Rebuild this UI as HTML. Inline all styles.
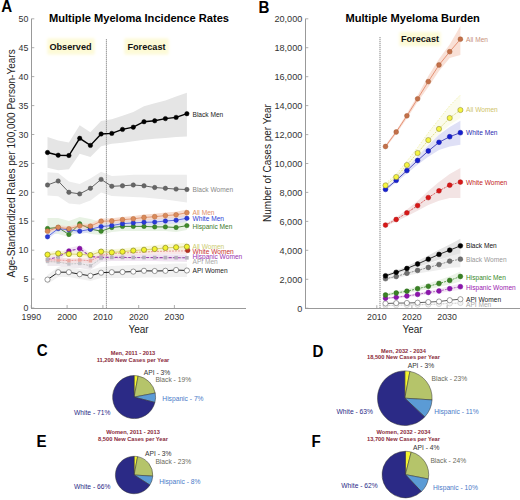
<!DOCTYPE html>
<html><head><meta charset="utf-8"><style>
html,body{margin:0;padding:0;background:#fff;width:520px;height:500px;overflow:hidden}
svg{display:block}
</style></head><body>
<svg width="520" height="500" viewBox="0 0 520 500" font-family="Liberation Sans, sans-serif">
<rect width="520" height="500" fill="#fff"/>
<defs><filter id="soft" x="-20%" y="-40%" width="140%" height="180%"><feGaussianBlur stdDeviation="1.6"/></filter></defs>
<polygon points="47.5,136.9 58.2,140.5 68.9,142.5 79.7,125.2 90.4,132.3 101.1,120.9 111.8,119.2 122.5,115.8 133.3,111.9 144.0,106.2 154.7,103.3 165.4,100.4 176.1,96.5 186.9,92.7 186.9,136.5 176.1,136.9 165.4,137.9 154.7,138.8 144.0,139.8 133.3,141.3 122.5,142.7 111.8,143.7 101.1,146.2 90.4,156.9 79.7,153.8 68.9,169.2 58.2,170.2 47.5,167.7" fill="#e5e5e5" fill-opacity="1"/>
<polygon points="47.5,172.3 58.2,172.9 68.9,181.5 79.7,184.0 90.4,178.5 101.1,171.7 111.8,176.0 122.5,175.4 133.3,174.8 144.0,174.8 154.7,174.8 165.4,174.8 176.1,174.8 186.9,174.8 186.9,202.5 176.1,201.0 165.4,199.5 154.7,198.5 144.0,197.5 133.3,197.0 122.5,196.5 111.8,196.0 101.1,192.5 90.4,200.5 79.7,204.5 68.9,203.5 58.2,196.3 47.5,195.4" fill="#ececec" fill-opacity="1"/>
<polygon points="47.5,218.0 58.2,218.0 68.9,221.0 79.7,217.0 90.4,219.0 101.1,222.0 111.8,223.0 122.5,222.5 133.3,222.5 144.0,222.5 154.7,223.0 165.4,223.0 176.1,223.0 186.9,221.5 186.9,230.0 176.1,232.0 165.4,231.0 154.7,231.0 144.0,231.0 133.3,231.0 122.5,231.0 111.8,232.0 101.1,235.0 90.4,234.0 79.7,231.0 68.9,237.0 58.2,234.0 47.5,234.0" fill="#e8f2e4" fill-opacity="1"/>
<polygon points="47.5,234.3 58.2,226.0 68.9,227.1 79.7,228.5 90.4,226.5 101.1,223.7 111.8,222.5 122.5,220.7 133.3,219.8 144.0,219.1 154.7,218.8 165.4,217.7 176.1,216.8 186.9,214.8 186.9,221.8 176.1,223.6 165.4,224.3 154.7,225.4 144.0,225.5 133.3,226.0 122.5,226.7 111.8,228.5 101.1,229.5 90.4,232.1 79.7,233.9 68.9,232.5 58.2,231.2 47.5,239.3" fill="#d6d9f5" fill-opacity="0.8"/>
<polygon points="47.5,229.0 58.2,225.0 68.9,226.4 79.7,223.4 90.4,223.7 101.1,218.6 111.8,218.3 122.5,217.0 133.3,216.0 144.0,214.6 154.7,213.7 165.4,212.6 176.1,211.7 186.9,209.5 186.9,215.9 176.1,217.9 165.4,218.6 154.7,219.7 144.0,220.4 133.3,221.6 122.5,222.4 111.8,223.7 101.1,223.8 90.4,228.7 79.7,228.2 68.9,231.2 58.2,229.6 47.5,233.4" fill="#f5d5c4" fill-opacity="0.8"/>
<polygon points="47.5,257.0 58.2,257.0 68.9,259.0 79.7,259.0 90.4,260.0 101.1,255.0 111.8,254.5 122.5,254.5 133.3,254.5 144.0,254.5 154.7,254.5 165.4,254.5 176.1,254.5 186.9,254.5 186.9,262.0 176.1,261.5 165.4,261.5 154.7,261.0 144.0,261.0 133.3,261.0 122.5,261.0 111.8,261.0 101.1,262.0 90.4,270.0 79.7,268.0 68.9,269.0 58.2,266.0 47.5,266.0" fill="#eeeaee" fill-opacity="1"/>
<polygon points="47.5,275.0 58.2,267.0 68.9,267.0 79.7,269.0 90.4,270.0 101.1,267.0 111.8,266.0 122.5,265.5 133.3,265.0 144.0,264.5 154.7,264.5 165.4,264.0 176.1,263.5 186.9,263.5 186.9,277.0 176.1,277.0 165.4,277.5 154.7,277.5 144.0,277.5 133.3,278.0 122.5,278.0 111.8,278.0 101.1,278.0 90.4,281.0 79.7,279.0 68.9,277.0 58.2,277.0 47.5,284.0" fill="#f1f1f1" fill-opacity="1"/>
<polygon points="47.5,256.5 58.2,254.0 68.9,248.0 79.7,245.5 90.4,253.5 101.1,254.4 111.8,254.4 122.5,254.4 133.3,254.5 144.0,254.5 154.7,254.6 165.4,254.6 176.1,254.7 186.9,254.8 186.9,261.3 176.1,261.2 165.4,261.0 154.7,261.0 144.0,260.8 133.3,260.8 122.5,260.7 111.8,260.6 101.1,260.6 90.4,259.7 79.7,251.6 68.9,254.1 58.2,260.0 47.5,262.5" fill="#f0e0f2" fill-opacity="0.8"/>
<polygon points="47.5,257.3 58.2,257.5 68.9,258.0 79.7,257.4 90.4,258.1 101.1,252.8 111.8,250.8 122.5,250.2 133.3,249.7 144.0,249.2 154.7,248.6 165.4,248.3 176.1,248.0 186.9,247.9 186.9,253.9 176.1,254.0 165.4,254.1 154.7,254.4 144.0,254.8 133.3,255.3 122.5,255.8 111.8,256.2 101.1,258.2 90.4,263.5 79.7,262.6 68.9,263.2 58.2,262.5 47.5,262.3" fill="#f6d8d8" fill-opacity="0.6"/>
<polygon points="47.5,252.1 58.2,250.8 68.9,251.3 79.7,251.5 90.4,252.1 101.1,248.5 111.8,249.2 122.5,248.4 133.3,247.2 144.0,246.3 154.7,245.3 165.4,244.1 176.1,243.4 186.9,242.7 186.9,250.2 176.1,250.7 165.4,251.2 154.7,252.3 144.0,253.0 133.3,253.7 122.5,254.7 111.8,255.4 101.1,254.5 90.4,257.9 79.7,257.0 68.9,256.7 58.2,256.0 47.5,257.1" fill="#f5f5cc" fill-opacity="0.7"/>
<line x1="106.4" y1="39" x2="106.4" y2="308" stroke="#9a9a9a" stroke-width="1" stroke-dasharray="1.5,0.5"/>
<polyline points="47.5,261.5 58.2,262.0 68.9,264.0 79.7,263.5 90.4,265.8 101.1,258.5 111.8,257.8 122.5,257.8 133.3,257.8 144.0,257.8 154.7,257.8 165.4,257.8 176.1,257.8 186.9,257.8" fill="none" stroke="#c0c0c0" stroke-width="0.9" stroke-opacity="1" stroke-dasharray="2,1"/>
<rect x="45.8" y="259.8" width="3.4" height="3.4" fill="#c4c2c8"/><rect x="56.5" y="260.3" width="3.4" height="3.4" fill="#c4c2c8"/><rect x="67.2" y="262.3" width="3.4" height="3.4" fill="#c4c2c8"/><rect x="78.0" y="261.8" width="3.4" height="3.4" fill="#c4c2c8"/><rect x="88.7" y="264.1" width="3.4" height="3.4" fill="#c4c2c8"/><rect x="99.4" y="256.8" width="3.4" height="3.4" fill="#c4c2c8"/>
<polyline points="47.5,259.8 58.2,260.0 68.9,260.6 79.7,260.0 90.4,260.8 101.1,255.5 111.8,253.5 122.5,253.0 133.3,252.5 144.0,252.0 154.7,251.5 165.4,251.2 176.1,251.0 186.9,250.9" fill="none" stroke="#e89090" stroke-width="0.9" stroke-opacity="1" stroke-dasharray="2,1"/>
<rect x="45.8" y="258.1" width="3.4" height="3.4" fill="#eaa8a0"/><rect x="56.5" y="258.3" width="3.4" height="3.4" fill="#eaa8a0"/><rect x="67.2" y="258.9" width="3.4" height="3.4" fill="#eaa8a0"/><rect x="78.0" y="258.3" width="3.4" height="3.4" fill="#eaa8a0"/><rect x="88.7" y="259.1" width="3.4" height="3.4" fill="#eaa8a0"/><rect x="99.4" y="253.8" width="3.4" height="3.4" fill="#eaa8a0"/>
<polyline points="47.5,259.5 58.2,257.0 68.9,251.0 79.7,248.5 90.4,256.5 101.1,257.4 111.8,257.4 122.5,257.4 133.3,257.5 144.0,257.5 154.7,257.6 165.4,257.6 176.1,257.7 186.9,257.8" fill="none" stroke="#9a48b0" stroke-width="1.1" stroke-opacity="1" stroke-dasharray="3,1.5"/>
<rect x="45.7" y="257.7" width="3.6" height="3.6" fill="#b4b0bc"/><rect x="56.4" y="255.2" width="3.6" height="3.6" fill="#b4b0bc"/><rect x="88.6" y="254.7" width="3.6" height="3.6" fill="#b4b0bc"/><rect x="99.3" y="255.6" width="3.6" height="3.6" fill="#b4b0bc"/><rect x="110.0" y="255.6" width="3.6" height="3.6" fill="#b4b0bc"/><rect x="120.7" y="255.6" width="3.6" height="3.6" fill="#b4b0bc"/><rect x="131.5" y="255.7" width="3.6" height="3.6" fill="#b4b0bc"/><rect x="142.2" y="255.7" width="3.6" height="3.6" fill="#b4b0bc"/><rect x="152.9" y="255.8" width="3.6" height="3.6" fill="#b4b0bc"/><rect x="163.6" y="255.8" width="3.6" height="3.6" fill="#b4b0bc"/><rect x="174.3" y="255.9" width="3.6" height="3.6" fill="#b4b0bc"/><rect x="185.1" y="256.0" width="3.6" height="3.6" fill="#b4b0bc"/>
<circle cx="68.9" cy="251.0" r="2.3" fill="#8a10a8" stroke="#6a0090" stroke-width="0.5"/><circle cx="79.7" cy="248.5" r="2.3" fill="#8a10a8" stroke="#6a0090" stroke-width="0.5"/>
<circle cx="187.7" cy="250.4" r="2.3" fill="#b83020" stroke="#902010" stroke-width="0.5"/>
<polyline points="47.5,254.6 58.2,253.4 68.9,254.0 79.7,254.3 90.4,255.1 101.1,251.6 111.8,252.4 122.5,251.7 133.3,250.6 144.0,249.8 154.7,249.0 165.4,247.9 176.1,247.3 186.9,246.7" fill="none" stroke="#d8d060" stroke-width="0.9" stroke-opacity="1"/>
<circle cx="47.5" cy="254.6" r="2.6" fill="#f2f230" stroke="#85852a" stroke-width="0.7"/><circle cx="58.2" cy="253.4" r="2.6" fill="#f2f230" stroke="#85852a" stroke-width="0.7"/><circle cx="68.9" cy="254.0" r="2.6" fill="#f2f230" stroke="#85852a" stroke-width="0.7"/><circle cx="79.7" cy="254.3" r="2.6" fill="#f2f230" stroke="#85852a" stroke-width="0.7"/><circle cx="90.4" cy="255.1" r="2.6" fill="#f2f230" stroke="#85852a" stroke-width="0.7"/><circle cx="101.1" cy="251.6" r="2.6" fill="#f2f230" stroke="#85852a" stroke-width="0.7"/><circle cx="111.8" cy="252.4" r="2.6" fill="#f2f230" stroke="#85852a" stroke-width="0.7"/><circle cx="122.5" cy="251.7" r="2.6" fill="#f2f230" stroke="#85852a" stroke-width="0.7"/><circle cx="133.3" cy="250.6" r="2.6" fill="#f2f230" stroke="#85852a" stroke-width="0.7"/><circle cx="144.0" cy="249.8" r="2.6" fill="#f2f230" stroke="#85852a" stroke-width="0.7"/><circle cx="154.7" cy="249.0" r="2.6" fill="#f2f230" stroke="#85852a" stroke-width="0.7"/><circle cx="165.4" cy="247.9" r="2.6" fill="#f2f230" stroke="#85852a" stroke-width="0.7"/><circle cx="176.1" cy="247.3" r="2.6" fill="#f2f230" stroke="#85852a" stroke-width="0.7"/><circle cx="186.9" cy="246.7" r="2.6" fill="#f2f230" stroke="#85852a" stroke-width="0.7"/>
<polyline points="47.5,279.6 58.2,272.2 68.9,272.2 79.7,274.2 90.4,275.8 101.1,272.7 111.8,272.2 122.5,272.0 133.3,271.6 144.0,270.8 154.7,271.0 165.4,270.8 176.1,270.0 186.9,270.5" fill="none" stroke="#222" stroke-width="1.0" stroke-opacity="1"/>
<circle cx="47.5" cy="279.6" r="2.6" fill="#fff" stroke="#555" stroke-width="0.6"/><circle cx="58.2" cy="272.2" r="2.6" fill="#fff" stroke="#555" stroke-width="0.6"/><circle cx="68.9" cy="272.2" r="2.6" fill="#fff" stroke="#555" stroke-width="0.6"/><circle cx="79.7" cy="274.2" r="2.6" fill="#fff" stroke="#555" stroke-width="0.6"/><circle cx="90.4" cy="275.8" r="2.6" fill="#fff" stroke="#555" stroke-width="0.6"/><circle cx="101.1" cy="272.7" r="2.6" fill="#fff" stroke="#555" stroke-width="0.6"/><circle cx="111.8" cy="272.2" r="2.6" fill="#fff" stroke="#555" stroke-width="0.6"/><circle cx="122.5" cy="272.0" r="2.6" fill="#fff" stroke="#555" stroke-width="0.6"/><circle cx="133.3" cy="271.6" r="2.6" fill="#fff" stroke="#555" stroke-width="0.6"/><circle cx="144.0" cy="270.8" r="2.6" fill="#fff" stroke="#555" stroke-width="0.6"/><circle cx="154.7" cy="271.0" r="2.6" fill="#fff" stroke="#555" stroke-width="0.6"/><circle cx="165.4" cy="270.8" r="2.6" fill="#fff" stroke="#555" stroke-width="0.6"/><circle cx="176.1" cy="270.0" r="2.6" fill="#fff" stroke="#555" stroke-width="0.6"/><circle cx="186.9" cy="270.5" r="2.6" fill="#fff" stroke="#555" stroke-width="0.6"/>
<polyline points="47.5,228.5 58.2,227.5 68.9,234.5 79.7,223.8 90.4,229.0 101.1,231.2 111.8,227.5 122.5,226.4 133.3,226.4 144.0,226.4 154.7,226.9 165.4,226.9 176.1,227.5 186.9,225.6" fill="none" stroke="#3a7a2a" stroke-width="0.9" stroke-opacity="1"/>
<circle cx="47.5" cy="228.5" r="2.2" fill="#3d8a2a" stroke="#2a6a1a" stroke-width="0.5"/><circle cx="58.2" cy="227.5" r="2.2" fill="#3d8a2a" stroke="#2a6a1a" stroke-width="0.5"/><circle cx="68.9" cy="234.5" r="2.2" fill="#3d8a2a" stroke="#2a6a1a" stroke-width="0.5"/><circle cx="79.7" cy="223.8" r="2.2" fill="#3d8a2a" stroke="#2a6a1a" stroke-width="0.5"/><circle cx="90.4" cy="229.0" r="2.2" fill="#3d8a2a" stroke="#2a6a1a" stroke-width="0.5"/><circle cx="101.1" cy="231.2" r="2.2" fill="#3d8a2a" stroke="#2a6a1a" stroke-width="0.5"/><circle cx="111.8" cy="227.5" r="2.2" fill="#3d8a2a" stroke="#2a6a1a" stroke-width="0.5"/><circle cx="122.5" cy="226.4" r="2.2" fill="#3d8a2a" stroke="#2a6a1a" stroke-width="0.5"/><circle cx="133.3" cy="226.4" r="2.2" fill="#3d8a2a" stroke="#2a6a1a" stroke-width="0.5"/><circle cx="144.0" cy="226.4" r="2.2" fill="#3d8a2a" stroke="#2a6a1a" stroke-width="0.5"/><circle cx="154.7" cy="226.9" r="2.2" fill="#3d8a2a" stroke="#2a6a1a" stroke-width="0.5"/><circle cx="165.4" cy="226.9" r="2.2" fill="#3d8a2a" stroke="#2a6a1a" stroke-width="0.5"/><circle cx="176.1" cy="227.5" r="2.2" fill="#3d8a2a" stroke="#2a6a1a" stroke-width="0.5"/><circle cx="186.9" cy="225.6" r="2.2" fill="#3d8a2a" stroke="#2a6a1a" stroke-width="0.5"/>
<polyline points="47.5,236.8 58.2,228.6 68.9,229.8 79.7,231.2 90.4,229.3 101.1,226.6 111.8,225.5 122.5,223.7 133.3,222.9 144.0,222.3 154.7,222.1 165.4,221.0 176.1,220.2 186.9,218.3" fill="none" stroke="#5060e0" stroke-width="0.9" stroke-opacity="1"/>
<circle cx="47.5" cy="236.8" r="2.2" fill="#2a3ad8" stroke="#1a2ab0" stroke-width="0.5"/><circle cx="58.2" cy="228.6" r="2.2" fill="#2a3ad8" stroke="#1a2ab0" stroke-width="0.5"/><circle cx="68.9" cy="229.8" r="2.2" fill="#2a3ad8" stroke="#1a2ab0" stroke-width="0.5"/><circle cx="79.7" cy="231.2" r="2.2" fill="#2a3ad8" stroke="#1a2ab0" stroke-width="0.5"/><circle cx="90.4" cy="229.3" r="2.2" fill="#2a3ad8" stroke="#1a2ab0" stroke-width="0.5"/><circle cx="101.1" cy="226.6" r="2.2" fill="#2a3ad8" stroke="#1a2ab0" stroke-width="0.5"/><circle cx="111.8" cy="225.5" r="2.2" fill="#2a3ad8" stroke="#1a2ab0" stroke-width="0.5"/><circle cx="122.5" cy="223.7" r="2.2" fill="#2a3ad8" stroke="#1a2ab0" stroke-width="0.5"/><circle cx="133.3" cy="222.9" r="2.2" fill="#2a3ad8" stroke="#1a2ab0" stroke-width="0.5"/><circle cx="144.0" cy="222.3" r="2.2" fill="#2a3ad8" stroke="#1a2ab0" stroke-width="0.5"/><circle cx="154.7" cy="222.1" r="2.2" fill="#2a3ad8" stroke="#1a2ab0" stroke-width="0.5"/><circle cx="165.4" cy="221.0" r="2.2" fill="#2a3ad8" stroke="#1a2ab0" stroke-width="0.5"/><circle cx="176.1" cy="220.2" r="2.2" fill="#2a3ad8" stroke="#1a2ab0" stroke-width="0.5"/><circle cx="186.9" cy="218.3" r="2.2" fill="#2a3ad8" stroke="#1a2ab0" stroke-width="0.5"/>
<polyline points="47.5,231.2 58.2,227.3 68.9,228.8 79.7,225.8 90.4,226.2 101.1,221.2 111.8,221.0 122.5,219.7 133.3,218.8 144.0,217.5 154.7,216.7 165.4,215.6 176.1,214.8 186.9,212.7" fill="none" stroke="#e0906a" stroke-width="0.9" stroke-opacity="1"/>
<circle cx="47.5" cy="231.2" r="2.4" fill="#d98a5a" stroke="#b86a3a" stroke-width="0.5"/><circle cx="58.2" cy="227.3" r="2.4" fill="#d98a5a" stroke="#b86a3a" stroke-width="0.5"/><circle cx="68.9" cy="228.8" r="2.4" fill="#d98a5a" stroke="#b86a3a" stroke-width="0.5"/><circle cx="79.7" cy="225.8" r="2.4" fill="#d98a5a" stroke="#b86a3a" stroke-width="0.5"/><circle cx="90.4" cy="226.2" r="2.4" fill="#d98a5a" stroke="#b86a3a" stroke-width="0.5"/><circle cx="101.1" cy="221.2" r="2.4" fill="#d98a5a" stroke="#b86a3a" stroke-width="0.5"/><circle cx="111.8" cy="221.0" r="2.4" fill="#d98a5a" stroke="#b86a3a" stroke-width="0.5"/><circle cx="122.5" cy="219.7" r="2.4" fill="#d98a5a" stroke="#b86a3a" stroke-width="0.5"/><circle cx="133.3" cy="218.8" r="2.4" fill="#d98a5a" stroke="#b86a3a" stroke-width="0.5"/><circle cx="144.0" cy="217.5" r="2.4" fill="#d98a5a" stroke="#b86a3a" stroke-width="0.5"/><circle cx="154.7" cy="216.7" r="2.4" fill="#d98a5a" stroke="#b86a3a" stroke-width="0.5"/><circle cx="165.4" cy="215.6" r="2.4" fill="#d98a5a" stroke="#b86a3a" stroke-width="0.5"/><circle cx="176.1" cy="214.8" r="2.4" fill="#d98a5a" stroke="#b86a3a" stroke-width="0.5"/><circle cx="186.9" cy="212.7" r="2.4" fill="#d98a5a" stroke="#b86a3a" stroke-width="0.5"/>
<polyline points="47.5,185.0 58.2,181.0 68.9,192.3 79.7,193.9 90.4,188.3 101.1,179.4 111.8,186.3 122.5,185.8 133.3,185.0 144.0,185.8 154.7,187.5 165.4,188.3 176.1,189.1 186.9,189.5" fill="none" stroke="#666" stroke-width="1.0" stroke-opacity="1"/>
<circle cx="47.5" cy="185.0" r="2.2" fill="#666" stroke="#555" stroke-width="0.5"/><circle cx="58.2" cy="181.0" r="2.2" fill="#666" stroke="#555" stroke-width="0.5"/><circle cx="68.9" cy="192.3" r="2.2" fill="#666" stroke="#555" stroke-width="0.5"/><circle cx="79.7" cy="193.9" r="2.2" fill="#666" stroke="#555" stroke-width="0.5"/><circle cx="90.4" cy="188.3" r="2.2" fill="#666" stroke="#555" stroke-width="0.5"/><circle cx="101.1" cy="179.4" r="2.2" fill="#666" stroke="#555" stroke-width="0.5"/><circle cx="111.8" cy="186.3" r="2.2" fill="#666" stroke="#555" stroke-width="0.5"/><circle cx="122.5" cy="185.8" r="2.2" fill="#666" stroke="#555" stroke-width="0.5"/><circle cx="133.3" cy="185.0" r="2.2" fill="#666" stroke="#555" stroke-width="0.5"/><circle cx="144.0" cy="185.8" r="2.2" fill="#666" stroke="#555" stroke-width="0.5"/><circle cx="154.7" cy="187.5" r="2.2" fill="#666" stroke="#555" stroke-width="0.5"/><circle cx="165.4" cy="188.3" r="2.2" fill="#666" stroke="#555" stroke-width="0.5"/><circle cx="176.1" cy="189.1" r="2.2" fill="#666" stroke="#555" stroke-width="0.5"/><circle cx="186.9" cy="189.5" r="2.2" fill="#666" stroke="#555" stroke-width="0.5"/>
<polyline points="47.5,152.5 58.2,155.2 68.9,155.5 79.7,138.3 90.4,145.4 101.1,134.0 111.8,133.4 122.5,129.4 133.3,127.2 144.0,121.7 154.7,120.8 165.4,118.6 176.1,117.4 186.9,113.7" fill="none" stroke="#000" stroke-width="1.4" stroke-opacity="1"/>
<circle cx="47.5" cy="152.5" r="2.2" fill="#000" stroke="#000" stroke-width="0.5"/><circle cx="58.2" cy="155.2" r="2.2" fill="#000" stroke="#000" stroke-width="0.5"/><circle cx="68.9" cy="155.5" r="2.2" fill="#000" stroke="#000" stroke-width="0.5"/><circle cx="79.7" cy="138.3" r="2.2" fill="#000" stroke="#000" stroke-width="0.5"/><circle cx="90.4" cy="145.4" r="2.2" fill="#000" stroke="#000" stroke-width="0.5"/><circle cx="101.1" cy="134.0" r="2.2" fill="#000" stroke="#000" stroke-width="0.5"/><circle cx="111.8" cy="133.4" r="2.2" fill="#000" stroke="#000" stroke-width="0.5"/><circle cx="122.5" cy="129.4" r="2.2" fill="#000" stroke="#000" stroke-width="0.5"/><circle cx="133.3" cy="127.2" r="2.2" fill="#000" stroke="#000" stroke-width="0.5"/><circle cx="144.0" cy="121.7" r="2.2" fill="#000" stroke="#000" stroke-width="0.5"/><circle cx="154.7" cy="120.8" r="2.2" fill="#000" stroke="#000" stroke-width="0.5"/><circle cx="165.4" cy="118.6" r="2.2" fill="#000" stroke="#000" stroke-width="0.5"/><circle cx="176.1" cy="117.4" r="2.2" fill="#000" stroke="#000" stroke-width="0.5"/><circle cx="186.9" cy="113.7" r="2.2" fill="#000" stroke="#000" stroke-width="0.5"/>
<line x1="31" y1="308.5" x2="246" y2="308.5" stroke="#999" stroke-width="1"/>
<line x1="31.5" y1="308.5" x2="31.5" y2="18.8" stroke="#999" stroke-width="1"/>
<line x1="31.3" y1="308.0" x2="34.3" y2="308.0" stroke="#999" stroke-width="0.8"/>
<text x="28.3" y="311.2" font-size="8.8" fill="#333" text-anchor="end">0</text>
<line x1="31.3" y1="279.1" x2="34.3" y2="279.1" stroke="#999" stroke-width="0.8"/>
<text x="28.3" y="282.3" font-size="8.8" fill="#333" text-anchor="end">5</text>
<line x1="31.3" y1="250.2" x2="34.3" y2="250.2" stroke="#999" stroke-width="0.8"/>
<text x="28.3" y="253.4" font-size="8.8" fill="#333" text-anchor="end">10</text>
<line x1="31.3" y1="221.2" x2="34.3" y2="221.2" stroke="#999" stroke-width="0.8"/>
<text x="28.3" y="224.4" font-size="8.8" fill="#333" text-anchor="end">15</text>
<line x1="31.3" y1="192.3" x2="34.3" y2="192.3" stroke="#999" stroke-width="0.8"/>
<text x="28.3" y="195.5" font-size="8.8" fill="#333" text-anchor="end">20</text>
<line x1="31.3" y1="163.4" x2="34.3" y2="163.4" stroke="#999" stroke-width="0.8"/>
<text x="28.3" y="166.6" font-size="8.8" fill="#333" text-anchor="end">25</text>
<line x1="31.3" y1="134.5" x2="34.3" y2="134.5" stroke="#999" stroke-width="0.8"/>
<text x="28.3" y="137.7" font-size="8.8" fill="#333" text-anchor="end">30</text>
<line x1="31.3" y1="105.6" x2="34.3" y2="105.6" stroke="#999" stroke-width="0.8"/>
<text x="28.3" y="108.8" font-size="8.8" fill="#333" text-anchor="end">35</text>
<line x1="31.3" y1="76.6" x2="34.3" y2="76.6" stroke="#999" stroke-width="0.8"/>
<text x="28.3" y="79.8" font-size="8.8" fill="#333" text-anchor="end">40</text>
<line x1="31.3" y1="47.7" x2="34.3" y2="47.7" stroke="#999" stroke-width="0.8"/>
<text x="28.3" y="50.9" font-size="8.8" fill="#333" text-anchor="end">45</text>
<line x1="31.3" y1="18.8" x2="34.3" y2="18.8" stroke="#999" stroke-width="0.8"/>
<text x="28.3" y="22.0" font-size="8.8" fill="#333" text-anchor="end">50</text>
<line x1="31.3" y1="308.0" x2="31.3" y2="305.0" stroke="#999" stroke-width="0.8"/>
<text x="31.3" y="320" font-size="8.8" fill="#333" text-anchor="middle">1990</text>
<line x1="67.1" y1="308.0" x2="67.1" y2="305.0" stroke="#999" stroke-width="0.8"/>
<text x="67.1" y="320" font-size="8.8" fill="#333" text-anchor="middle">2000</text>
<line x1="102.9" y1="308.0" x2="102.9" y2="305.0" stroke="#999" stroke-width="0.8"/>
<text x="102.9" y="320" font-size="8.8" fill="#333" text-anchor="middle">2010</text>
<line x1="138.7" y1="308.0" x2="138.7" y2="305.0" stroke="#999" stroke-width="0.8"/>
<text x="138.7" y="320" font-size="8.8" fill="#333" text-anchor="middle">2020</text>
<line x1="174.4" y1="308.0" x2="174.4" y2="305.0" stroke="#999" stroke-width="0.8"/>
<text x="174.4" y="320" font-size="8.8" fill="#333" text-anchor="middle">2030</text>
<text x="138.5" y="333" font-size="10" fill="#222" text-anchor="middle">Year</text>
<text transform="translate(14.8,163.4) rotate(-90)" font-size="10" fill="#222" text-anchor="middle">Age-Standardized Rates per 100,000 Person-Years</text>
<text x="139" y="21.5" font-size="11.1" font-weight="bold" fill="#000" text-anchor="middle">Multiple Myeloma Incidence Rates</text>
<text transform="translate(6.7,12.2) scale(0.9,1)" font-size="16.8" font-weight="bold" fill="#000" text-anchor="middle">A</text>
<rect x="47.5" y="38.5" width="47" height="16" fill="#fdfad6" filter="url(#soft)"/>
<text x="70.5" y="49.7" font-size="9.15" font-weight="bold" fill="#111" text-anchor="middle">Observed</text>
<rect x="124.5" y="38.5" width="44" height="16" fill="#fdfad6" filter="url(#soft)"/>
<text x="146.5" y="49.7" font-size="9.15" font-weight="bold" fill="#111" text-anchor="middle">Forecast</text>
<text x="192.5" y="116.8" font-size="6.6" fill="#222">Black Men</text>
<text x="192.5" y="191.8" font-size="6.6" fill="#888">Black Women</text>
<text x="192.5" y="215.3" font-size="6.6" fill="#e0906a">All Men</text>
<text x="192.5" y="221" font-size="6.6" fill="#2a3ad8">White Men</text>
<text x="192.5" y="228.7" font-size="6.6" fill="#3a7a2a">Hispanic Men</text>
<text x="192.5" y="248.6" font-size="6.6" fill="#cccc70">All Women</text>
<text x="192.5" y="253.6" font-size="6.6" fill="#c83030">White Women</text>
<text x="192.5" y="259.1" font-size="6.6" fill="#9a30b0">Hispanic Women</text>
<text x="192.5" y="263.6" font-size="6.6" fill="#a8a8a8">API Men</text>
<text x="192.5" y="273" font-size="6.6" fill="#222">API Women</text>
<polygon points="385.5,145.0 396.2,130.5 406.9,113.5 417.6,95.5 428.3,76.0 439.0,59.0 449.7,44.5 460.4,26.0 460.4,55.0 449.7,58.0 439.0,71.0 428.3,87.0 417.6,102.0 406.9,118.5 396.2,134.0 385.5,148.0" fill="#f9e0d6" fill-opacity="1"/>
<polygon points="385.5,183.4 396.2,174.4 406.9,161.2 417.6,147.6 428.3,132.8 439.0,119.3 449.7,105.8 460.4,95.0 460.4,118.0 449.7,124.7 439.0,134.4 428.3,144.6 417.6,156.5 406.9,167.8 396.2,179.3 385.5,187.4" fill="#fbfbec" fill-opacity="1"/>
<polyline points="385.5,183.4 396.2,174.4 406.9,161.2 417.6,147.6 428.3,132.8 439.0,119.3 449.7,105.8 460.4,95.0" fill="none" stroke="#eeee9a" stroke-width="0.8" stroke-dasharray="1.5,1.5"/>
<polygon points="385.5,187.9 396.2,178.4 406.9,167.7 417.6,156.3 428.3,145.2 439.0,134.7 449.7,127.0 460.4,120.7 460.4,144.7 449.7,146.4 439.0,149.9 428.3,156.8 417.6,164.7 406.9,173.5 396.2,182.4 385.5,190.9" fill="#dfe0f6" fill-opacity="1"/>
<polygon points="385.5,223.6 396.2,217.4 406.9,209.6 417.6,200.9 428.3,191.0 439.0,182.0 449.7,173.9 460.4,168.1 460.4,198.1 449.7,198.0 439.0,200.8 428.3,205.0 417.6,210.8 406.9,216.3 396.2,221.6 385.5,226.6" fill="#f3e4e4" fill-opacity="1"/>
<polygon points="385.5,274.3 396.2,270.6 406.9,266.3 417.6,261.1 428.3,255.5 439.0,249.7 449.7,244.4 460.4,238.8 460.4,253.8 449.7,256.8 439.0,259.7 428.3,263.4 417.6,267.2 406.9,270.9 396.2,274.1 385.5,277.3" fill="#e4e4e4" fill-opacity="1"/>
<polygon points="385.5,277.2 396.2,274.8 406.9,271.2 417.6,267.7 428.3,264.2 439.0,260.5 449.7,256.2 460.4,253.2 460.4,267.2 449.7,267.8 439.0,269.9 428.3,271.7 417.6,273.6 406.9,275.7 396.2,278.3 385.5,280.2" fill="#eeeeee" fill-opacity="1"/>
<polygon points="385.5,293.5 396.2,291.3 406.9,289.2 417.6,286.3 428.3,283.4 439.0,280.0 449.7,276.2 460.4,271.5 460.4,281.5 449.7,284.6 439.0,287.0 428.3,289.2 417.6,291.1 406.9,293.2 396.2,294.7 385.5,296.5" fill="#eaf3e6" fill-opacity="1"/>
<polygon points="385.5,297.3 396.2,296.2 406.9,294.7 417.6,292.9 428.3,290.7 439.0,288.8 449.7,286.1 460.4,283.7 460.4,289.7 449.7,291.3 439.0,293.2 428.3,294.3 417.6,295.9 406.9,297.3 396.2,298.4 385.5,299.3" fill="#f3e8f4" fill-opacity="1"/>
<line x1="380.0" y1="37" x2="380.0" y2="308.2" stroke="#9a9a9a" stroke-width="1.2" stroke-dasharray="1.2,0.8"/>
<polyline points="385.5,305.5 396.2,305.2 406.9,305.0 417.6,304.8 428.3,304.5 439.0,304.0 449.7,303.5 460.4,303.0" fill="none" stroke="#bbb" stroke-width="0.8" stroke-opacity="1" stroke-dasharray="2,1"/>
<circle cx="385.5" cy="305.5" r="2.6" fill="#f4f4f4" stroke="#bbb" stroke-width="0.5"/><circle cx="396.2" cy="305.2" r="2.6" fill="#f4f4f4" stroke="#bbb" stroke-width="0.5"/><circle cx="406.9" cy="305.0" r="2.6" fill="#f4f4f4" stroke="#bbb" stroke-width="0.5"/><circle cx="417.6" cy="304.8" r="2.6" fill="#f4f4f4" stroke="#bbb" stroke-width="0.5"/><circle cx="428.3" cy="304.5" r="2.6" fill="#f4f4f4" stroke="#bbb" stroke-width="0.5"/><circle cx="439.0" cy="304.0" r="2.6" fill="#f4f4f4" stroke="#bbb" stroke-width="0.5"/><circle cx="449.7" cy="303.5" r="2.6" fill="#f4f4f4" stroke="#bbb" stroke-width="0.5"/><circle cx="460.4" cy="303.0" r="2.6" fill="#f4f4f4" stroke="#bbb" stroke-width="0.5"/>
<polyline points="385.5,303.5 396.2,303.1 406.9,303.0 417.6,302.7 428.3,302.1 439.0,301.5 449.7,300.2 460.4,299.2" fill="none" stroke="#333" stroke-width="0.8" stroke-opacity="1"/>
<circle cx="385.5" cy="303.5" r="2.6" fill="#fff" stroke="#444" stroke-width="0.5"/><circle cx="396.2" cy="303.1" r="2.6" fill="#fff" stroke="#444" stroke-width="0.5"/><circle cx="406.9" cy="303.0" r="2.6" fill="#fff" stroke="#444" stroke-width="0.5"/><circle cx="417.6" cy="302.7" r="2.6" fill="#fff" stroke="#444" stroke-width="0.5"/><circle cx="428.3" cy="302.1" r="2.6" fill="#fff" stroke="#444" stroke-width="0.5"/><circle cx="439.0" cy="301.5" r="2.6" fill="#fff" stroke="#444" stroke-width="0.5"/><circle cx="449.7" cy="300.2" r="2.6" fill="#fff" stroke="#444" stroke-width="0.5"/><circle cx="460.4" cy="299.2" r="2.6" fill="#fff" stroke="#444" stroke-width="0.5"/>
<polyline points="385.5,298.3 396.2,297.3 406.9,296.0 417.6,294.4 428.3,292.5 439.0,291.0 449.7,288.7 460.4,286.7" fill="none" stroke="#a040b0" stroke-width="0.8" stroke-opacity="1" stroke-dasharray="2,1"/>
<circle cx="385.5" cy="298.3" r="2.4" fill="#8e14aa" stroke="#7010a0" stroke-width="0.5"/><circle cx="396.2" cy="297.3" r="2.4" fill="#8e14aa" stroke="#7010a0" stroke-width="0.5"/><circle cx="406.9" cy="296.0" r="2.4" fill="#8e14aa" stroke="#7010a0" stroke-width="0.5"/><circle cx="417.6" cy="294.4" r="2.4" fill="#8e14aa" stroke="#7010a0" stroke-width="0.5"/><circle cx="428.3" cy="292.5" r="2.4" fill="#8e14aa" stroke="#7010a0" stroke-width="0.5"/><circle cx="439.0" cy="291.0" r="2.4" fill="#8e14aa" stroke="#7010a0" stroke-width="0.5"/><circle cx="449.7" cy="288.7" r="2.4" fill="#8e14aa" stroke="#7010a0" stroke-width="0.5"/><circle cx="460.4" cy="286.7" r="2.4" fill="#8e14aa" stroke="#7010a0" stroke-width="0.5"/>
<polyline points="385.5,295.0 396.2,293.0 406.9,291.2 417.6,288.7 428.3,286.3 439.0,283.5 449.7,280.4 460.4,276.5" fill="none" stroke="#3a8a2a" stroke-width="0.8" stroke-opacity="1" stroke-dasharray="2,1"/>
<circle cx="385.5" cy="295.0" r="2.4" fill="#3a8224" stroke="#2a6a1a" stroke-width="0.5"/><circle cx="396.2" cy="293.0" r="2.4" fill="#3a8224" stroke="#2a6a1a" stroke-width="0.5"/><circle cx="406.9" cy="291.2" r="2.4" fill="#3a8224" stroke="#2a6a1a" stroke-width="0.5"/><circle cx="417.6" cy="288.7" r="2.4" fill="#3a8224" stroke="#2a6a1a" stroke-width="0.5"/><circle cx="428.3" cy="286.3" r="2.4" fill="#3a8224" stroke="#2a6a1a" stroke-width="0.5"/><circle cx="439.0" cy="283.5" r="2.4" fill="#3a8224" stroke="#2a6a1a" stroke-width="0.5"/><circle cx="449.7" cy="280.4" r="2.4" fill="#3a8224" stroke="#2a6a1a" stroke-width="0.5"/><circle cx="460.4" cy="276.5" r="2.4" fill="#3a8224" stroke="#2a6a1a" stroke-width="0.5"/>
<polyline points="385.5,278.7 396.2,276.5 406.9,273.3 417.6,270.4 428.3,267.5 439.0,264.6 449.7,261.2 460.4,259.2" fill="none" stroke="#777" stroke-width="0.8" stroke-opacity="1" stroke-dasharray="2,1"/>
<circle cx="385.5" cy="278.7" r="2.4" fill="#707070" stroke="#555" stroke-width="0.5"/><circle cx="396.2" cy="276.5" r="2.4" fill="#707070" stroke="#555" stroke-width="0.5"/><circle cx="406.9" cy="273.3" r="2.4" fill="#707070" stroke="#555" stroke-width="0.5"/><circle cx="417.6" cy="270.4" r="2.4" fill="#707070" stroke="#555" stroke-width="0.5"/><circle cx="428.3" cy="267.5" r="2.4" fill="#707070" stroke="#555" stroke-width="0.5"/><circle cx="439.0" cy="264.6" r="2.4" fill="#707070" stroke="#555" stroke-width="0.5"/><circle cx="449.7" cy="261.2" r="2.4" fill="#707070" stroke="#555" stroke-width="0.5"/><circle cx="460.4" cy="259.2" r="2.4" fill="#707070" stroke="#555" stroke-width="0.5"/>
<polyline points="385.5,275.8 396.2,272.3 406.9,268.5 417.6,264.0 428.3,259.2 439.0,254.4 449.7,250.2 460.4,245.8" fill="none" stroke="#000" stroke-width="0.8" stroke-opacity="1"/>
<circle cx="385.5" cy="275.8" r="2.4" fill="#000" stroke="#000" stroke-width="0.5"/><circle cx="396.2" cy="272.3" r="2.4" fill="#000" stroke="#000" stroke-width="0.5"/><circle cx="406.9" cy="268.5" r="2.4" fill="#000" stroke="#000" stroke-width="0.5"/><circle cx="417.6" cy="264.0" r="2.4" fill="#000" stroke="#000" stroke-width="0.5"/><circle cx="428.3" cy="259.2" r="2.4" fill="#000" stroke="#000" stroke-width="0.5"/><circle cx="439.0" cy="254.4" r="2.4" fill="#000" stroke="#000" stroke-width="0.5"/><circle cx="449.7" cy="250.2" r="2.4" fill="#000" stroke="#000" stroke-width="0.5"/><circle cx="460.4" cy="245.8" r="2.4" fill="#000" stroke="#000" stroke-width="0.5"/>
<polyline points="385.5,225.1 396.2,219.5 406.9,212.8 417.6,205.6 428.3,197.6 439.0,190.8 449.7,185.2 460.4,182.1" fill="none" stroke="#d04040" stroke-width="0.8" stroke-opacity="1" stroke-dasharray="2,1"/>
<circle cx="385.5" cy="225.1" r="2.4" fill="#d81818" stroke="#b01010" stroke-width="0.5"/><circle cx="396.2" cy="219.5" r="2.4" fill="#d81818" stroke="#b01010" stroke-width="0.5"/><circle cx="406.9" cy="212.8" r="2.4" fill="#d81818" stroke="#b01010" stroke-width="0.5"/><circle cx="417.6" cy="205.6" r="2.4" fill="#d81818" stroke="#b01010" stroke-width="0.5"/><circle cx="428.3" cy="197.6" r="2.4" fill="#d81818" stroke="#b01010" stroke-width="0.5"/><circle cx="439.0" cy="190.8" r="2.4" fill="#d81818" stroke="#b01010" stroke-width="0.5"/><circle cx="449.7" cy="185.2" r="2.4" fill="#d81818" stroke="#b01010" stroke-width="0.5"/><circle cx="460.4" cy="182.1" r="2.4" fill="#d81818" stroke="#b01010" stroke-width="0.5"/>
<polyline points="385.5,189.4 396.2,180.4 406.9,170.6 417.6,160.5 428.3,151.0 439.0,142.3 449.7,136.7 460.4,132.7" fill="none" stroke="#2a2ab0" stroke-width="0.8" stroke-opacity="1"/>
<circle cx="385.5" cy="189.4" r="2.4" fill="#1420d0" stroke="#1010a0" stroke-width="0.5"/><circle cx="396.2" cy="180.4" r="2.4" fill="#1420d0" stroke="#1010a0" stroke-width="0.5"/><circle cx="406.9" cy="170.6" r="2.4" fill="#1420d0" stroke="#1010a0" stroke-width="0.5"/><circle cx="417.6" cy="160.5" r="2.4" fill="#1420d0" stroke="#1010a0" stroke-width="0.5"/><circle cx="428.3" cy="151.0" r="2.4" fill="#1420d0" stroke="#1010a0" stroke-width="0.5"/><circle cx="439.0" cy="142.3" r="2.4" fill="#1420d0" stroke="#1010a0" stroke-width="0.5"/><circle cx="449.7" cy="136.7" r="2.4" fill="#1420d0" stroke="#1010a0" stroke-width="0.5"/><circle cx="460.4" cy="132.7" r="2.4" fill="#1420d0" stroke="#1010a0" stroke-width="0.5"/>
<polyline points="385.5,185.4 396.2,177.0 406.9,165.0 417.6,153.0 428.3,140.1 439.0,128.9 449.7,118.0 460.4,110.0" fill="none" stroke="#d8d870" stroke-width="0.8" stroke-opacity="1" stroke-dasharray="2,1"/>
<circle cx="385.5" cy="185.4" r="2.6" fill="#f5f542" stroke="#807a30" stroke-width="0.5"/><circle cx="396.2" cy="177.0" r="2.6" fill="#f5f542" stroke="#807a30" stroke-width="0.5"/><circle cx="406.9" cy="165.0" r="2.6" fill="#f5f542" stroke="#807a30" stroke-width="0.5"/><circle cx="417.6" cy="153.0" r="2.6" fill="#f5f542" stroke="#807a30" stroke-width="0.5"/><circle cx="428.3" cy="140.1" r="2.6" fill="#f5f542" stroke="#807a30" stroke-width="0.5"/><circle cx="439.0" cy="128.9" r="2.6" fill="#f5f542" stroke="#807a30" stroke-width="0.5"/><circle cx="449.7" cy="118.0" r="2.6" fill="#f5f542" stroke="#807a30" stroke-width="0.5"/><circle cx="460.4" cy="110.0" r="2.6" fill="#f5f542" stroke="#807a30" stroke-width="0.5"/>
<polyline points="385.5,146.5 396.2,132.0 406.9,115.8 417.6,98.8 428.3,81.6 439.0,65.0 449.7,51.7 460.4,39.2" fill="none" stroke="#e08060" stroke-width="0.8" stroke-opacity="1"/>
<circle cx="385.5" cy="146.5" r="2.4" fill="#c4704a" stroke="#a05a30" stroke-width="0.5"/><circle cx="396.2" cy="132.0" r="2.4" fill="#c4704a" stroke="#a05a30" stroke-width="0.5"/><circle cx="406.9" cy="115.8" r="2.4" fill="#c4704a" stroke="#a05a30" stroke-width="0.5"/><circle cx="417.6" cy="98.8" r="2.4" fill="#c4704a" stroke="#a05a30" stroke-width="0.5"/><circle cx="428.3" cy="81.6" r="2.4" fill="#c4704a" stroke="#a05a30" stroke-width="0.5"/><circle cx="439.0" cy="65.0" r="2.4" fill="#c4704a" stroke="#a05a30" stroke-width="0.5"/><circle cx="449.7" cy="51.7" r="2.4" fill="#c4704a" stroke="#a05a30" stroke-width="0.5"/><circle cx="460.4" cy="39.2" r="2.4" fill="#c4704a" stroke="#a05a30" stroke-width="0.5"/>
<line x1="305" y1="308.5" x2="520" y2="308.5" stroke="#999" stroke-width="1"/>
<line x1="305.5" y1="308.5" x2="305.5" y2="18.8" stroke="#999" stroke-width="1"/>
<line x1="305.3" y1="308.2" x2="308.3" y2="308.2" stroke="#999" stroke-width="0.8"/>
<text x="302.3" y="311.5" font-size="9.1" fill="#333" text-anchor="end">0</text>
<line x1="305.3" y1="279.3" x2="308.3" y2="279.3" stroke="#999" stroke-width="0.8"/>
<text x="302.3" y="282.6" font-size="9.1" fill="#333" text-anchor="end">2,000</text>
<line x1="305.3" y1="250.3" x2="308.3" y2="250.3" stroke="#999" stroke-width="0.8"/>
<text x="302.3" y="253.6" font-size="9.1" fill="#333" text-anchor="end">4,000</text>
<line x1="305.3" y1="221.4" x2="308.3" y2="221.4" stroke="#999" stroke-width="0.8"/>
<text x="302.3" y="224.7" font-size="9.1" fill="#333" text-anchor="end">6,000</text>
<line x1="305.3" y1="192.4" x2="308.3" y2="192.4" stroke="#999" stroke-width="0.8"/>
<text x="302.3" y="195.7" font-size="9.1" fill="#333" text-anchor="end">8,000</text>
<line x1="305.3" y1="163.5" x2="308.3" y2="163.5" stroke="#999" stroke-width="0.8"/>
<text x="302.3" y="166.8" font-size="9.1" fill="#333" text-anchor="end">10,000</text>
<line x1="305.3" y1="134.6" x2="308.3" y2="134.6" stroke="#999" stroke-width="0.8"/>
<text x="302.3" y="137.9" font-size="9.1" fill="#333" text-anchor="end">12,000</text>
<line x1="305.3" y1="105.6" x2="308.3" y2="105.6" stroke="#999" stroke-width="0.8"/>
<text x="302.3" y="108.9" font-size="9.1" fill="#333" text-anchor="end">14,000</text>
<line x1="305.3" y1="76.7" x2="308.3" y2="76.7" stroke="#999" stroke-width="0.8"/>
<text x="302.3" y="80.0" font-size="9.1" fill="#333" text-anchor="end">16,000</text>
<line x1="305.3" y1="47.7" x2="308.3" y2="47.7" stroke="#999" stroke-width="0.8"/>
<text x="302.3" y="51.0" font-size="9.1" fill="#333" text-anchor="end">18,000</text>
<line x1="305.3" y1="18.8" x2="308.3" y2="18.8" stroke="#999" stroke-width="0.8"/>
<text x="302.3" y="22.1" font-size="9.1" fill="#333" text-anchor="end">20,000</text>
<line x1="376.8" y1="308.2" x2="376.8" y2="305.2" stroke="#999" stroke-width="0.8"/>
<text x="376.8" y="320" font-size="8.8" fill="#333" text-anchor="middle">2010</text>
<line x1="411.9" y1="308.2" x2="411.9" y2="305.2" stroke="#999" stroke-width="0.8"/>
<text x="411.9" y="320" font-size="8.8" fill="#333" text-anchor="middle">2020</text>
<line x1="447.1" y1="308.2" x2="447.1" y2="305.2" stroke="#999" stroke-width="0.8"/>
<text x="447.1" y="320" font-size="8.8" fill="#333" text-anchor="middle">2030</text>
<text x="412.5" y="333" font-size="10" fill="#222" text-anchor="middle">Year</text>
<text transform="translate(271,163) rotate(-90)" font-size="10" fill="#222" text-anchor="middle">Number of Cases per Year</text>
<text x="412.7" y="21.5" font-size="11.1" font-weight="bold" fill="#000" text-anchor="middle">Multiple Myeloma Burden</text>
<text transform="translate(264,12.7) scale(0.9,1)" font-size="16.8" font-weight="bold" fill="#000" text-anchor="middle">B</text>
<rect x="399.5" y="32" width="41" height="14" fill="#fdfad6" filter="url(#soft)"/>
<text x="420" y="42.2" font-size="9.15" font-weight="bold" fill="#111" text-anchor="middle">Forecast</text>
<text x="466" y="41.6" font-size="6.6" fill="#c8907a">All Men</text>
<text x="466" y="112" font-size="6.6" fill="#cfc46a">All Women</text>
<text x="466" y="135" font-size="6.6" fill="#2a2ab0">White Men</text>
<text x="466" y="184.5" font-size="6.6" fill="#c42222">White Women</text>
<text x="466" y="248" font-size="6.6" fill="#111">Black Men</text>
<text x="466" y="261.6" font-size="6.6" fill="#999">Black Women</text>
<text x="466" y="279.5" font-size="6.6" fill="#3a8a2a">Hispanic Men</text>
<text x="466" y="290" font-size="6.6" fill="#9a20b0">Hispanic Women</text>
<text x="466" y="302.4" font-size="6.6" fill="#222">API Women</text>
<text x="466" y="306.6" font-size="6.6" fill="#a8a8a8">API Men</text>
<text transform="translate(42.3,356.4) scale(0.9,1)" font-size="16.8" font-weight="bold" fill="#000" text-anchor="middle">C</text>
<text x="133" y="355" font-size="5.7" font-weight="bold" fill="#8a2a3a" text-anchor="middle">Men, 2011 - 2013</text>
<text x="133" y="361.6" font-size="5.7" font-weight="bold" fill="#8a2a3a" text-anchor="middle">11,200 New Cases per Year</text>
<path d="M134.1,397.1 L134.10,375.60 A21.5,21.5 0 0 1 138.13,375.98 Z" fill="#f5f530" stroke="#333" stroke-width="0.5"/><path d="M134.1,397.1 L138.13,375.98 A21.5,21.5 0 0 1 155.22,393.07 Z" fill="#b5c46a" stroke="#333" stroke-width="0.5"/><path d="M134.1,397.1 L155.22,393.07 A21.5,21.5 0 0 1 154.92,402.45 Z" fill="#5b9bd5" stroke="#333" stroke-width="0.5"/><path d="M134.1,397.1 L154.92,402.45 A21.5,21.5 0 1 1 134.10,375.60 Z" fill="#2b2a86" stroke="#333" stroke-width="0.5"/>
<text x="143.8" y="374.7" font-size="6.7" fill="#333" text-anchor="start">API - 3%</text>
<text x="155.4" y="381.6" font-size="6.7" fill="#6a6a5a" text-anchor="start">Black - 19%</text>
<text x="162.3" y="400.8" font-size="6.7" fill="#4a7ac8" text-anchor="start">Hispanic - 7%</text>
<text x="110.4" y="415" font-size="6.7" fill="#2b2a86" text-anchor="end">White - 71%</text>
<text transform="translate(41.5,447.2) scale(0.9,1)" font-size="16.8" font-weight="bold" fill="#000" text-anchor="middle">E</text>
<text x="133" y="434.3" font-size="5.7" font-weight="bold" fill="#8a2a3a" text-anchor="middle">Women, 2011 - 2013</text>
<text x="133" y="440.90000000000003" font-size="5.7" font-weight="bold" fill="#8a2a3a" text-anchor="middle">8,500 New Cases per Year</text>
<path d="M134.1,475 L134.10,456.30 A18.7,18.7 0 0 1 137.60,456.63 Z" fill="#f5f530" stroke="#333" stroke-width="0.5"/><path d="M134.1,475 L137.60,456.63 A18.7,18.7 0 0 1 152.76,476.17 Z" fill="#b5c46a" stroke="#333" stroke-width="0.5"/><path d="M134.1,475 L152.76,476.17 A18.7,18.7 0 0 1 149.89,485.02 Z" fill="#5b9bd5" stroke="#333" stroke-width="0.5"/><path d="M134.1,475 L149.89,485.02 A18.7,18.7 0 1 1 134.10,456.30 Z" fill="#2b2a86" stroke="#333" stroke-width="0.5"/>
<text x="145" y="455.8" font-size="6.7" fill="#333" text-anchor="start">API - 3%</text>
<text x="155.4" y="463.8" font-size="6.7" fill="#6a6a5a" text-anchor="start">Black - 23%</text>
<text x="159.2" y="483.8" font-size="6.7" fill="#4a7ac8" text-anchor="start">Hispanic - 8%</text>
<text x="110.4" y="488.5" font-size="6.7" fill="#2b2a86" text-anchor="end">White - 66%</text>
<text transform="translate(318,357.2) scale(0.9,1)" font-size="16.8" font-weight="bold" fill="#000" text-anchor="middle">D</text>
<text x="403.5" y="352.5" font-size="5.7" font-weight="bold" fill="#8a2a3a" text-anchor="middle">Men, 2032 - 2034</text>
<text x="403.5" y="359.1" font-size="5.7" font-weight="bold" fill="#8a2a3a" text-anchor="middle">18,500 New Cases per Year</text>
<path d="M404.8,398.2 L404.80,370.90 A27.3,27.3 0 0 1 409.92,371.38 Z" fill="#f5f530" stroke="#333" stroke-width="0.5"/><path d="M404.8,398.2 L409.92,371.38 A27.3,27.3 0 0 1 432.05,399.91 Z" fill="#b5c46a" stroke="#333" stroke-width="0.5"/><path d="M404.8,398.2 L432.05,399.91 A27.3,27.3 0 0 1 424.70,416.89 Z" fill="#5b9bd5" stroke="#333" stroke-width="0.5"/><path d="M404.8,398.2 L424.70,416.89 A27.3,27.3 0 1 1 404.80,370.90 Z" fill="#2b2a86" stroke="#333" stroke-width="0.5"/>
<text x="407.7" y="368.1" font-size="6.7" fill="#333" text-anchor="start">API - 3%</text>
<text x="431.5" y="380.8" font-size="6.7" fill="#6a6a5a" text-anchor="start">Black - 23%</text>
<text x="434.2" y="413.8" font-size="6.7" fill="#4a7ac8" text-anchor="start">Hispanic - 11%</text>
<text x="373" y="414.2" font-size="6.7" fill="#2b2a86" text-anchor="end">White - 63%</text>
<text transform="translate(316,447.2) scale(0.9,1)" font-size="16.8" font-weight="bold" fill="#000" text-anchor="middle">F</text>
<text x="403.5" y="434" font-size="5.7" font-weight="bold" fill="#8a2a3a" text-anchor="middle">Women, 2032 - 2034</text>
<text x="403.5" y="440.6" font-size="5.7" font-weight="bold" fill="#8a2a3a" text-anchor="middle">13,700 New Cases per Year</text>
<path d="M405.4,474.6 L405.40,451.30 A23.3,23.3 0 0 1 411.19,452.03 Z" fill="#f5f530" stroke="#333" stroke-width="0.5"/><path d="M405.4,474.6 L411.19,452.03 A23.3,23.3 0 0 1 428.29,478.97 Z" fill="#b5c46a" stroke="#333" stroke-width="0.5"/><path d="M405.4,474.6 L428.29,478.97 A23.3,23.3 0 0 1 421.35,491.58 Z" fill="#5b9bd5" stroke="#333" stroke-width="0.5"/><path d="M405.4,474.6 L421.35,491.58 A23.3,23.3 0 1 1 405.40,451.30 Z" fill="#2b2a86" stroke="#333" stroke-width="0.5"/>
<text x="413" y="450" font-size="6.7" fill="#333" text-anchor="start">API - 4%</text>
<text x="430.4" y="462.7" font-size="6.7" fill="#6a6a5a" text-anchor="start">Black - 24%</text>
<text x="433" y="490.3" font-size="6.7" fill="#4a7ac8" text-anchor="start">Hispanic - 10%</text>
<text x="377.7" y="487.7" font-size="6.7" fill="#2b2a86" text-anchor="end">White - 62%</text>
</svg>
</body></html>
